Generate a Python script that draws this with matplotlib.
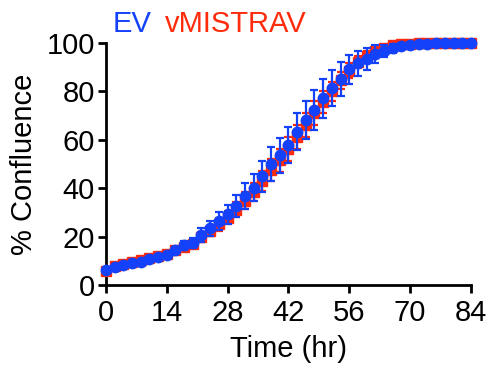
import numpy as np
import matplotlib
matplotlib.use('Agg')
import matplotlib.pyplot as plt

plt.rcParams['font.family'] = ['Liberation Sans', 'DejaVu Sans']

# time points (hr)
time = list(range(0, 86, 2))

# EV (blue) mean and error
ev_mean = [6.2, 7.5, 8.3, 9.0, 9.6, 10.6, 11.6, 12.5, 14.5, 16.4, 17.2, 20.7, 23.4,
           26.4, 29.2, 32.6, 36.8, 40.2, 44.8, 49.9, 53.5, 57.9, 63.3, 68.2, 72.3,
           77.1, 81.5, 85.1, 89.1, 91.6, 93.5, 95.5, 96.8, 97.8, 98.8, 99.2, 99.5,
           99.7, 99.8, 99.8, 99.9, 99.9, 99.9]
ev_err = [0.6, 0.6, 0.6, 0.7, 0.7, 0.8, 0.8, 0.9, 1.3, 1.8, 2.1, 2.9, 3.1,
          3.8, 4.0, 4.5, 5.4, 5.6, 6.5, 7.0, 7.2, 7.5, 7.7, 8.0, 8.4,
          8.0, 7.4, 7.0, 6.0, 5.2, 4.5, 3.6, 2.5, 1.8, 1.2, 0.8, 0.5,
          0.4, 0.3, 0.3, 0.2, 0.2, 0.2]

# vMISTRAV (red) mean and error
vm_mean = [5.8, 7.8, 8.8, 9.5, 10.2, 11.0, 11.8, 12.6, 14.3, 15.8, 17.0, 19.8, 22.3,
           25.0, 27.8, 31.0, 34.8, 38.5, 42.8, 47.5, 51.5, 56.0, 61.0, 66.0, 71.0,
           75.5, 80.0, 84.5, 88.5, 92.0, 94.5, 96.5, 98.0, 99.0, 99.5, 99.7, 99.8,
           99.8, 99.8, 99.8, 99.8, 99.8, 99.8]
vm_err = [0.5, 0.5, 0.5, 0.5, 0.6, 0.6, 0.7, 0.7, 1.0, 1.3, 1.5, 2.0, 2.2,
          2.6, 2.8, 3.1, 3.5, 3.8, 4.2, 4.6, 4.8, 5.0, 5.0, 5.0, 4.8,
          4.5, 4.0, 3.5, 3.0, 2.5, 2.0, 1.5, 1.0, 0.7, 0.5, 0.3, 0.2,
          0.2, 0.2, 0.2, 0.2, 0.2, 0.2]

blue = '#1441FA'
red = '#FF2B0D'

fig = plt.figure(figsize=(4.9, 3.7), dpi=100)
ax = fig.add_axes([0.216, 0.23, 0.745, 0.654])

ax.errorbar(time, vm_mean, yerr=vm_err, fmt='s', color=red, ms=7, ecolor=red,
            elinewidth=1.6, capsize=3, capthick=1.6, clip_on=False, zorder=3)
ax.errorbar(time, ev_mean, yerr=ev_err, fmt='o', color=blue, ms=7.5, ecolor=blue,
            elinewidth=1.6, capsize=3, capthick=1.6, clip_on=False, zorder=4)

ax.set_xlim(0, 84)
ax.set_ylim(0, 100)
ax.set_xticks([0, 14, 28, 42, 56, 70, 84])
ax.set_yticks([0, 20, 40, 60, 80, 100])

for s in ['top', 'right']:
    ax.spines[s].set_visible(False)
for s in ['left', 'bottom']:
    ax.spines[s].set_linewidth(2)
ax.tick_params(width=2, length=6, labelsize=21, pad=2)
ax.tick_params(axis='x', pad=4)

ax.set_xlabel('Time (hr)', fontsize=21, labelpad=6)
ax.set_ylabel('% Confluence', fontsize=21, labelpad=6)

fig.text(0.229, 0.913, 'EV', color=blue, fontsize=21, va='baseline')
fig.text(0.337, 0.913, 'vMISTRAV', color=red, fontsize=21, va='baseline')

fig.savefig('out.png', dpi=100)
